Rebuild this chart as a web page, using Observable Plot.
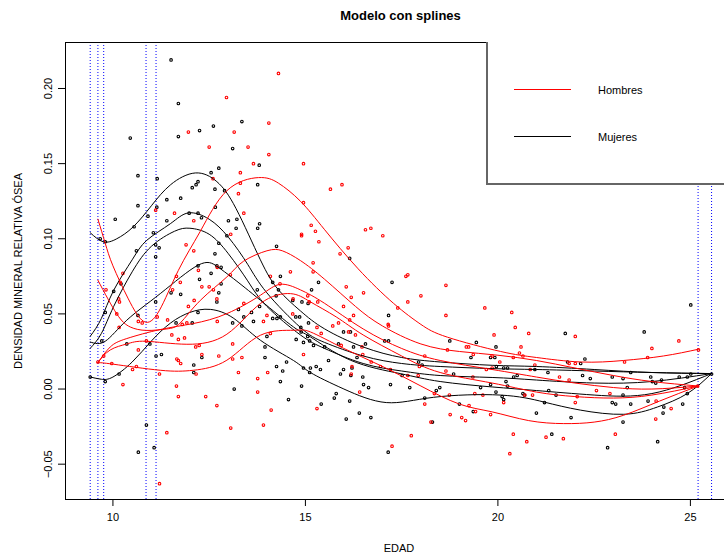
<!DOCTYPE html>
<html><head><meta charset="utf-8">
<script src="https://cdn.jsdelivr.net/npm/d3@7"></script>
<script src="https://cdn.jsdelivr.net/npm/@observablehq/plot@0.6"></script>
<style>
body{margin:0;background:#fff;overflow:hidden}
#wrap{position:relative;width:724px;height:554px;font-family:"Liberation Sans",Arial,sans-serif}
#legend{position:absolute;left:486px;top:42px;width:260px;height:141px;border-left:2px solid #666;border-bottom:2px solid #666;background:#fff}
</style></head><body><div id="wrap"></div>
<script>
// ---- data ----
const xDomain = [8.768, 25.886];
const yDomain = [-0.0735, 0.2306];
const xTicks = [10, 15, 20, 25];
const yTicks = [-0.05, 0, 0.05, 0.10, 0.15, 0.20];
const knots = [9.41, 9.61, 9.76, 10.86, 11.12, 25.20, 25.55];
const legendLabels = ["Hombres", "Mujeres"];
const legendColors = ["#ff0000", "#000000"];

const mujeres = [
[11.51,0.219],[11.70,0.190],[10.45,0.167],[11.70,0.168],[12.25,0.172],[12.61,0.175],[13.35,0.178],[13.11,0.160],[13.80,0.149],
[10.65,0.142],[11.15,0.140],[12.75,0.147],[12.55,0.144],[12.21,0.138],[12.16,0.136],[12.06,0.134],[12.65,0.133],[12.90,0.132],
[13.76,0.136],[10.65,0.122],[11.76,0.127],[11.40,0.126],[10.91,0.115],[12.66,0.121],[11.98,0.117],[12.21,0.117],[12.30,0.114],
[13.00,0.112],[13.22,0.113],[13.81,0.110],[13.76,0.107],[13.20,0.107],[10.06,0.113],[10.55,0.108],[11.05,0.104],[11.40,0.112],
[12.96,0.102],[12.75,0.097],[12.65,0.090],[14.25,0.095],[9.67,0.100],[9.80,0.098],[10.61,0.092],[11.11,0.096],[11.20,0.094],
[11.11,0.088],[12.21,0.082],[12.81,0.081],[11.14,0.121],[16.15,0.087],
[12.70,0.082],[10.02,0.065],[10.21,0.070],[12.25,0.073],[12.55,0.077],[12.81,0.070],[12.75,0.064],[12.70,0.058],[11.76,0.063],
[11.51,0.064],[9.80,0.051],[10.65,0.049],[11.11,0.058],[11.64,0.044],[12.06,0.044],[12.21,0.051],[9.71,0.032],[9.41,0.008],
[9.80,0.005],[10.16,0.010],[10.36,0.030],[10.96,0.030],[11.12,0.022],[11.26,0.023],[12.10,0.016],[12.31,0.021],[12.10,0.011],
[13.11,0.044],[13.35,0.042],[13.40,0.048],[13.26,0.053],[13.60,0.051],[13.65,0.045],[13.81,0.055],[13.75,0.066],[14.15,0.071],
[14.35,0.075],[14.30,0.066],[14.24,0.062],[14.26,0.047],[13.95,0.028],[14.00,0.035],[13.95,0.021],[14.25,0.015],[14.41,0.012],
[14.35,0.005],[14.51,0.018],[14.56,-0.007],[14.90,0.002],[14.95,0.014],[14.89,0.038],[14.76,0.033],[14.88,0.041],[14.75,0.048],
[14.85,0.048],[14.67,0.059],[14.91,0.058],[14.95,0.031],[15.06,0.035],[15.08,0.044],[13.15,0.000],[10.87,-0.024],[10.66,-0.042],
[11.07,-0.039],[14.15,0.047],[14.35,0.048],
[15.34,0.071],[15.16,0.066],[15.11,0.032],[15.21,0.029],[15.28,0.015],[15.39,0.013],[15.13,0.014],[15.11,0.011],[15.80,-0.003],
[15.75,-0.006],[15.41,-0.010],[15.99,0.013],[16.21,0.014],[16.18,0.009],[15.91,0.010],[16.49,0.008],[16.51,0.003],[16.64,0.001],
[16.15,-0.008],[16.40,-0.016],[16.70,-0.019],[16.06,-0.020],[17.25,0.071],[17.16,0.049],[17.06,0.032],[17.16,0.032],[17.51,0.009],
[17.71,0.001],[17.21,0.003],[18.10,-0.006],[18.30,-0.022],[18.75,0.032],[19.44,0.031],[19.30,0.021],[18.85,0.010],[18.49,0.001],
[18.40,-0.001],[19.00,-0.010],[19.36,-0.015],[19.55,0.001],[19.81,0.003],[19.92,0.021],[19.81,0.021],[17.15,-0.042],[18.03,0.016],
[17.94,0.018],[16.17,0.038],[15.99,0.038],[15.86,0.030],[16.25,0.028],[15.50,0.028],[16.56,0.030],[16.34,0.021],[15.60,0.019],
[15.07,0.057],
[19.95,0.028],[19.96,0.015],[20.15,0.014],[20.25,0.014],[21.75,0.037],[23.80,0.038],[25.01,0.056],[22.26,0.020],[22.15,0.017],
[21.81,0.018],[20.96,0.013],[21.30,0.011],[22.20,0.009],[22.40,0.007],[22.97,0.008],[23.25,0.007],[23.45,0.011],[23.97,0.008],
[24.25,0.006],[24.71,0.008],[24.92,0.008],[25.01,0.010],[24.01,0.005],[24.10,0.004],[23.36,0.001],[24.85,0.001],[20.21,0.005],
[20.25,0.002],[20.41,0.008],[20.50,0.009],[19.95,-0.002],[20.11,-0.005],[20.15,-0.007],[20.65,-0.003],[20.69,-0.004],[21.32,-0.001],
[21.51,-0.004],[21.21,-0.009],[21.00,-0.016],[21.90,-0.019],[21.40,-0.030],[22.97,-0.009],[23.06,-0.010],[23.25,-0.004],[23.45,-0.010],
[23.90,-0.008],[24.31,-0.012],[24.29,-0.016],[24.80,-0.010],[24.92,-0.003],[23.25,-0.022],[22.85,-0.039],[24.15,-0.035],[25.55,0.010]
];

const hombres = [
[14.30,0.210],[12.95,0.194],[11.96,0.171],[13.15,0.171],[14.05,0.177],[12.50,0.161],[13.51,0.161],[14.05,0.156],[13.65,0.150],
[14.95,0.150],[13.31,0.144],[12.60,0.140],[13.31,0.137],[13.26,0.130],[14.95,0.124],[13.40,0.117],[11.60,0.117],[12.10,0.112],
[11.11,0.119],[13.06,0.103],[14.90,0.103],[14.90,0.102],[11.90,0.096],[12.10,0.092],
[15.95,0.136],[15.65,0.133],[15.15,0.109],[15.26,0.105],[15.35,0.098],[16.56,0.106],[16.70,0.107],[17.01,0.102],[16.11,0.094],
[15.90,0.090],[15.20,0.084],
[10.26,0.077],[10.19,0.071],[9.82,0.066],[10.15,0.060],[10.17,0.058],[10.10,0.050],[10.16,0.041],[10.66,0.045],[10.76,0.044],
[11.15,0.048],[11.42,0.046],[11.55,0.066],[11.96,0.055],[12.11,0.059],[12.31,0.068],[12.50,0.068],[12.61,0.066],[12.70,0.060],
[12.71,0.081],[13.05,0.076],[13.40,0.057],[14.09,0.075],[14.61,0.078],[14.34,0.070],[14.68,0.060],[14.67,0.050],[15.10,0.058],
[14.00,0.049],[13.91,0.045],[14.09,0.037],[11.53,0.036],[11.70,0.033],[11.86,0.034],[12.15,0.028],[12.24,0.029],[12.71,0.045],
[11.92,0.044],[11.80,0.043],[12.31,0.023],[13.11,0.030],[13.35,0.021],[12.75,0.022],[13.11,0.020],[13.26,0.011],[13.76,0.007],
[13.76,-0.002],[14.02,0.011],[14.11,-0.014],[13.91,-0.024],[12.70,-0.011],[12.41,-0.005],[11.70,-0.005],[11.65,0.002],[11.66,0.020],
[11.70,0.019],[11.76,0.017],[10.61,0.015],[10.51,0.013],[10.26,0.003],[9.97,0.017],[9.76,0.022],[11.21,0.010],[11.40,-0.029],
[13.06,-0.026],[11.21,-0.063],[10.66,0.026],[10.87,0.032],[9.61,0.018],[11.65,0.075],[11.75,0.071],[12.22,0.079],[12.16,0.010],
[15.20,0.078],[15.06,0.062],[15.32,0.058],[14.95,0.023],[16.06,0.068],[16.19,0.061],[16.51,0.064],[15.99,0.055],[16.15,0.046],
[16.25,0.049],[15.71,0.042],[15.86,0.044],[15.30,0.041],[15.41,0.037],[16.12,0.038],[16.30,0.036],[15.93,0.029],[16.47,0.028],
[16.49,0.023],[16.71,0.018],[16.95,0.015],[16.21,0.015],[16.19,0.010],[16.41,-0.002],[15.30,-0.013],[17.61,0.075],[17.66,0.076],
[18.00,0.062],[17.66,0.058],[18.65,0.069],[18.65,0.049],[17.15,0.043],[17.16,0.042],[17.21,0.013],[17.40,0.054],[17.96,0.015],
[17.66,0.009],[18.10,0.022],[17.93,0.009],[18.35,-0.003],[18.10,-0.010],[18.74,-0.004],[18.65,0.012],[18.69,0.026],[19.24,0.028],
[19.18,0.028],[19.36,0.023],[19.66,0.054],[19.90,0.036],[20.05,0.018],[19.85,0.014],[19.70,0.013],[19.35,0.008],[19.40,-0.003],
[19.25,-0.011],[19.06,-0.019],[19.16,-0.021],[18.76,-0.017],[18.26,-0.022],[17.75,-0.031],[17.25,-0.038],[19.42,-0.015],
[20.36,0.051],[20.45,0.041],[20.80,0.037],[20.60,0.028],[20.56,0.024],[20.65,0.022],[20.40,0.021],[19.85,0.022],[20.84,0.013],
[20.96,0.016],[21.60,0.008],[21.85,0.006],[22.01,0.035],[21.85,0.017],[22.01,0.017],[22.56,-0.001],[22.91,-0.003],[22.06,-0.005],
[22.01,-0.009],[20.70,-0.004],[20.90,-0.004],[20.15,-0.009],[19.61,-0.004],[19.81,-0.017],[20.40,-0.030],[20.75,-0.035],[20.31,-0.043],
[21.25,-0.032],[21.70,-0.033],[23.05,-0.030],[24.10,-0.020],[24.50,-0.013],[24.11,-0.008],[24.00,0.027],[23.89,0.021],[24.70,0.032],
[23.29,0.018],[25.21,0.026],[25.19,0.002]
];

// quantile spline curves
const curvasMujeres = [
[[9.41,0.104],[9.75,0.098],[10.1,0.100],[10.53,0.108],[11.0,0.122],[11.5,0.136],[12.14,0.1438],[12.7,0.138],[13.2,0.120],[13.83,0.086],[14.3,0.066],[14.87,0.052],[15.5,0.040],[16.5,0.028],[17.5,0.021],[18.5,0.018],[19.85,0.0158],[21,0.015],[22.5,0.013],[24,0.011],[25.55,0.0103]],
[[9.41,0.0351],[9.7,0.047],[10.02,0.0657],[10.5,0.086],[10.88,0.099],[11.49,0.110],[11.96,0.1172],[12.5,0.113],[13.0,0.101],[13.5,0.083],[14.0,0.064],[14.87,0.041],[15.5,0.031],[16.5,0.022],[17.5,0.017],[18.5,0.015],[19.85,0.0136],[21,0.013],[22.5,0.012],[24,0.011],[25.55,0.0103]],
[[9.41,0.0271],[9.7,0.037],[10.02,0.055],[10.5,0.078],[11.0,0.095],[11.6,0.105],[12.0,0.107],[12.5,0.103],[13.0,0.090],[13.5,0.072],[14.0,0.055],[14.87,0.036],[15.5,0.027],[16.5,0.017],[17.5,0.012],[18.5,0.009],[19.85,0.0077],[21,0.006],[22.5,0.004],[24,0.005],[25.55,0.0103]],
[[9.41,0.0313],[9.8,0.0318],[10.36,0.0458],[11.23,0.0635],[12.21,0.0824],[12.7,0.0817],[13.13,0.0735],[13.83,0.0591],[14.69,0.0413],[15.13,0.0347],[16.17,0.0192],[17.46,0.0103],[18.5,0.005],[19.85,0.0014],[21,-0.001],[22.5,-0.004],[24,-0.003],[25.55,0.0103]],
[[9.41,0.008],[9.7,0.0065],[10.0,0.008],[10.5,0.018],[11.0,0.032],[11.5,0.044],[12.0,0.051],[12.53,0.053],[13.14,0.047],[13.83,0.0325],[14.69,0.019],[15.13,0.011],[16.0,0.000],[17.1,-0.009],[18.33,-0.0055],[20.06,-0.004],[21.19,-0.0086],[22.14,-0.014],[23.27,-0.0168],[24.14,-0.012],[24.92,-0.003],[25.55,0.0103]]
];
const curvasHombres = [
[[9.61,0.113],[9.8,0.097],[10.0,0.082],[10.4,0.060],[10.8,0.045],[11.2,0.052],[11.7,0.079],[12.27,0.105],[12.96,0.132],[13.78,0.1407],[14.3,0.137],[14.87,0.125],[15.5,0.106],[16.37,0.080],[17.29,0.057],[18.0,0.043],[18.69,0.0345],[20.07,0.025],[21.0,0.021],[22.15,0.018],[23.26,0.019],[24.3,0.022],[25.21,0.0265]],
[[9.61,0.0724],[10.1,0.050],[10.45,0.0413],[10.88,0.039],[11.4,0.040],[11.75,0.044],[12.27,0.059],[12.96,0.0746],[13.39,0.085],[14.0,0.092],[14.4,0.092],[14.87,0.0855],[15.5,0.073],[16.3,0.055],[17.0,0.042],[18.0,0.030],[19.0,0.025],[20.0,0.0225],[21.0,0.019],[22.0,0.014],[23.0,0.009],[24.0,0.005],[25.21,0.002]],
[[9.61,0.0176],[9.93,0.028],[10.36,0.0336],[11.23,0.0396],[12.09,0.0436],[12.96,0.0502],[13.83,0.0624],[14.35,0.0697],[14.87,0.066],[15.5,0.057],[16.5,0.040],[17.5,0.027],[18.5,0.019],[19.85,0.013],[21.0,0.008],[22.0,0.004],[23.0,0.001],[24.0,0.000],[25.21,0.002]],
[[9.61,0.0176],[9.93,0.026],[10.36,0.030],[10.86,0.0318],[11.92,0.0298],[12.96,0.0365],[13.83,0.0569],[14.61,0.0635],[15.13,0.058],[15.8,0.048],[16.5,0.036],[17.5,0.022],[18.5,0.011],[19.85,0.004],[21.0,-0.002],[22.0,-0.005],[23.0,-0.006],[24.0,-0.004],[25.21,0.002]],
[[9.61,0.0176],[10.02,0.0165],[11.23,0.0125],[12.09,0.0125],[12.96,0.0192],[13.83,0.0358],[14.69,0.0391],[15.13,0.038],[16.0,0.027],[17.03,0.0147],[18.0,0.002],[19.0,-0.010],[19.85,-0.0152],[20.8,-0.021],[21.71,-0.023],[22.5,-0.022],[23.27,-0.0174],[24.2,-0.008],[25.2,0.002]]
];

// ---- build tables ----
const toPts = arr => arr.map(([edad, dmo]) => ({edad, dmo}));
const toCurves = cs => cs.flatMap((c, q) => c.map(([edad, dmo]) => ({q, edad, dmo})));
const font = '"Liberation Sans", Arial, sans-serif';

const chart = Plot.plot({
  width: 724, height: 554,
  marginLeft: 65, marginRight: 0, marginTop: 42, marginBottom: 55,
  style: {fontFamily: font, fontSize: "11px", background: "white", color: "black"},
  x: {domain: xDomain, label: null},
  y: {domain: yDomain, label: null},
  marks: [
    Plot.ruleX(knots, {stroke: "blue", strokeDasharray: "1,2", strokeWidth: 1}),
    Plot.dot(toPts(mujeres), {x: "edad", y: "dmo", r: 1.3, stroke: "black", strokeWidth: 1.1}),
    Plot.dot(toPts(hombres), {x: "edad", y: "dmo", r: 1.3, stroke: "red", strokeWidth: 1.1}),
    Plot.line(toCurves(curvasMujeres), {x: "edad", y: "dmo", z: "q", stroke: "black", strokeWidth: 1, curve: "natural"}),
    Plot.line(toCurves(curvasHombres), {x: "edad", y: "dmo", z: "q", stroke: "red", strokeWidth: 1, curve: "natural"}),
    Plot.ruleX([xDomain[0]], {stroke: "black"}),
    Plot.ruleY(yDomain, {stroke: "black"}),
    Plot.axisX({ticks: xTicks, tickSize: 7, tickPadding: 7, label: null}),
    Plot.axisY({ticks: yTicks, tickSize: 7, tickPadding: 7, tickRotate: -90, tickFormat: d3.format(".2f"), label: null}),
    Plot.text(["Modelo con splines"], {text: d => d, frameAnchor: "top", dy: -27, dx: 5.5, lineAnchor: "middle", textAnchor: "middle", fontWeight: "bold", fontSize: 13}),
    Plot.text(["EDAD"], {text: d => d, frameAnchor: "bottom", dy: 49, dx: 4, lineAnchor: "middle", textAnchor: "middle"}),
    Plot.text(["DENSIDAD MINERAL RELATIVA ÓSEA"], {text: d => d, frameAnchor: "left", dx: -47, rotate: -90, lineAnchor: "middle", textAnchor: "middle"})
  ]
});
const wrap = document.getElementById("wrap");
wrap.appendChild(chart);

// legend (inside plot, top right), drawn as its own small SVG
const lg = d3.select(wrap).append("div").attr("id", "legend");
const lsvg = lg.append("svg").attr("width", 240).attr("height", 140)
  .style("font-family", font).style("font-size", "11px");
legendLabels.forEach((lab, i) => {
  const yy = 47 + i * 47;
  lsvg.append("rect").attr("x", 26).attr("y", yy).attr("width", 57).attr("height", 1.3)
    .attr("fill", legendColors[i]).attr("shape-rendering", "crispEdges");
  lsvg.append("text").attr("x", 110).attr("y", yy + 1).attr("dy", "0.35em").attr("fill", "black").text(lab);
});
</script></body></html>
